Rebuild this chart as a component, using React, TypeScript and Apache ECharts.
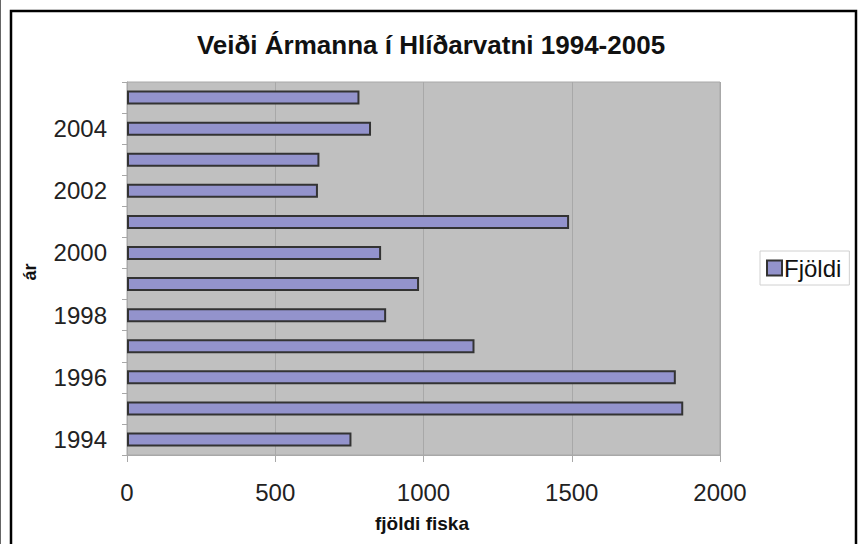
import React, { useEffect, useRef } from "react";
import * as echarts from "echarts";

const years = ["1994", "1995", "1996", "1997", "1998", "1999", "2000", "2001", "2002", "2003", "2004", "2005"];
const fjoldi = [757, 1876, 1851, 1172, 874, 985, 857, 1491, 644, 649, 823, 784];
const xTicks = [0, 500, 1000, 1500, 2000];
const titleText = "Veiði Ármanna í Hlíðarvatni 1994-2005";
const xName = "fjöldi fiska";
const yName = "ár";
const seriesName = "Fjöldi";

const FONT = "'Liberation Sans', Arial, Helvetica, sans-serif";

export default function App() {
  const ref = useRef<HTMLDivElement>(null);
  useEffect(() => {
    if (!ref.current) return;
    const chart = echarts.init(ref.current, null, { renderer: "svg" });
    chart.setOption({
      animation: false,
      backgroundColor: "#ffffff",
      textStyle: { fontFamily: FONT },
      title: {
        text: titleText,
        left: 426,
        textAlign: "center",
        top: 27,
        textStyle: { fontFamily: FONT, fontSize: 26, fontWeight: "bold", color: "#111" },
      },
      legend: {
        data: [seriesName],
        left: 760,
        top: 251,
        orient: "vertical",
        icon: "rect",
        itemWidth: 15,
        itemHeight: 15,
        itemGap: 4,
        padding: [5, 8, 5, 6],
        backgroundColor: "#ffffff",
        borderColor: "#d0d0d0",
        borderWidth: 1,
        textStyle: { fontFamily: FONT, fontSize: 24, color: "#111", padding: [0, 0, 0, -3] },
      },
      grid: {
        left: 127,
        right: 138,
        top: 82,
        bottom: 89,
        show: true,
        backgroundColor: "#c0c0c0",
        borderColor: "#a8a8a8",
        borderWidth: 1,
      },
      xAxis: {
        type: "value",
        min: xTicks[0],
        max: xTicks[xTicks.length - 1],
        interval: xTicks[1] - xTicks[0],
        axisLine: { show: true, lineStyle: { color: "#a8a8a8" } },
        axisTick: { show: true, length: 7, lineStyle: { color: "#a8a8a8" } },
        splitLine: { show: true, lineStyle: { color: "#a8a8a8", width: 1 } },
        axisLabel: {
          fontFamily: FONT,
          fontSize: 24,
          color: "#222",
          margin: 25,
          formatter: (v: number) => String(v),
        },
      },
      yAxis: {
        type: "category",
        data: years,
        axisLine: { show: true, lineStyle: { color: "#a8a8a8" } },
        axisTick: { show: true, length: 5, interval: 0, lineStyle: { color: "#a8a8a8" } },
        axisLabel: { interval: 1, fontFamily: FONT, fontSize: 24, color: "#222", margin: 20 },
        splitLine: { show: false },
      },
      graphic: [
        {
          type: "line",
          shape: { x1: 0.5, y1: 0, x2: 0.5, y2: 544 },
          style: { stroke: "#666", lineWidth: 1 },
          silent: true,
        },
        {
          type: "rect",
          shape: { x: 11, y: 11, width: 845, height: 560 },
          style: { fill: "none", stroke: "#000", lineWidth: 2.5 },
          silent: true,
          z: 100,
        },
        {
          type: "text",
          x: 30,
          y: 272,
          rotation: Math.PI / 2,
          style: {
            text: yName,
            fontFamily: FONT,
            fontSize: 18,
            fontWeight: "bold",
            fill: "#111",
            align: "center",
            verticalAlign: "middle",
          },
        },
        {
          type: "text",
          x: 422,
          y: 523,
          style: {
            text: xName,
            fontFamily: FONT,
            fontSize: 19,
            fontWeight: "bold",
            fill: "#111",
            align: "center",
            verticalAlign: "middle",
          },
        },
      ],
      series: [
        {
          name: seriesName,
          type: "bar",
          data: fjoldi,
          barWidth: 14,
          itemStyle: { color: "#9393cc", borderColor: "#333", borderWidth: 2 },
        },
      ],
    });
    return () => chart.dispose();
  }, []);
  return (
    <div
      ref={ref}
      style={{ position: "fixed", left: 0, top: 0, width: 858, height: 544, background: "#fff" }}
    />
  );
}
